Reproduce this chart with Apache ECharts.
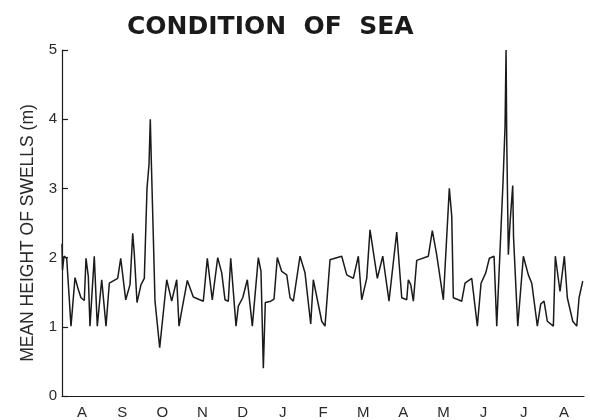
<!DOCTYPE html>
<html>
<head>
<meta charset="utf-8">
<script src="https://cdn.jsdelivr.net/npm/echarts@6/dist/echarts.min.js"></script>
<style>
html,body{margin:0;padding:0;background:#fff;}
#chart{width:590px;height:420px;}
</style>
</head>
<body>
<div id="chart"></div>
<script>
// Month labels (Aug .. Aug)
var monthLabels = ['A','S','O','N','D','J','F','M','A','M','J','J','A'];
// Yaxis ticks
var yTicks = [0,1,2,3,4,5];
// Position of each observation in months from the start of August
var monthPos = [
  0.00,0.012,0.05,0.117,0.224,0.324,0.406,0.473,0.555,0.598,0.655,0.697,0.804,0.879,0.989,
  1.096,1.178,1.387,1.462,1.587,1.694,1.761,1.801,1.868,1.968,
  2.050,2.117,2.167,2.199,2.224,2.279,2.316,2.433,2.608,2.732,2.857,2.914,2.981,
  3.121,3.270,3.519,3.619,3.743,3.878,3.978,
  4.060,4.142,4.202,4.334,4.391,4.501,4.615,4.740,4.889,4.956,
  5.014,5.063,5.198,5.280,5.362,5.472,5.597,5.679,5.761,5.928,
  6.052,6.194,6.259,6.468,6.550,6.675,6.966,
  7.091,7.255,7.380,7.464,7.589,7.671,7.853,7.988,
  8.144,8.336,8.461,8.585,8.625,8.685,8.750,8.834,
  9.123,9.223,9.332,9.497,9.539,9.646,9.706,9.746,9.870,9.955,
  10.037,10.204,10.344,10.436,10.553,10.643,10.760,10.827,10.984,
  11.034,11.059,11.076,11.116,11.158,11.225,11.245,11.350,11.490,11.614,11.699,11.838,11.923,
  12.005,12.087,12.237,12.286,12.403,12.511,12.585,12.720,12.819,12.877,12.969
];
// Mean height of swells (m)
var heights = [
  2.2,1.82,2.02,1.99,1.01,1.71,1.54,1.42,1.38,1.99,1.73,1.01,2.02,1.01,1.68,
  1.01,1.63,1.70,1.99,1.39,1.61,2.35,2.05,1.35,1.61,
  1.70,3.0,3.35,4.0,3.4,2.2,1.37,0.70,1.68,1.37,1.68,1.01,1.23,
  1.67,1.43,1.37,1.99,1.39,2.00,1.78,
  1.39,1.37,1.99,1.01,1.30,1.42,1.68,1.01,2.0,1.8,
  0.4,1.35,1.37,1.40,2.0,1.8,1.75,1.42,1.37,2.02,
  1.78,1.04,1.68,1.08,1.01,1.97,2.02,
  1.75,1.70,2.02,1.39,1.70,2.40,1.70,2.02,
  1.37,2.37,1.42,1.39,1.68,1.61,1.37,1.96,
  2.02,2.39,2.04,1.39,1.39,3.0,2.6,1.42,1.39,1.37,
  1.63,1.70,1.01,1.63,1.78,1.99,2.02,1.01,3.1,
  3.9,5.0,3.7,2.04,2.5,3.04,2.3,1.01,2.02,1.75,1.63,1.01,1.33,
  1.37,1.08,1.01,2.02,1.51,2.02,1.42,1.08,1.01,1.42,1.66
];

var seriesData = monthPos.map(function (m, i) { return [m, heights[i]]; });
var ink = '#1a1a1a';

var chart = echarts.init(document.getElementById('chart'), null, {renderer: 'canvas'});
chart.setOption({
  animation: false,
  backgroundColor: '#ffffff',
  title: {
    text: 'CONDITION  OF  SEA',
    left: 122,
    top: 10,
    textStyle: {fontFamily: 'DejaVu Sans', fontWeight: 'bold', fontSize: 25, color: ink}
  },
  graphic: [{
    type: 'text',
    x: 28,
    y: 233,
    rotation: Math.PI / 2,
    style: {
      text: 'MEAN HEIGHT OF SWELLS (m)',
      fontFamily: 'Liberation Sans',
      fontSize: 17.5,
      fill: '#2a2a2a',
      textAlign: 'center',
      textVerticalAlign: 'middle'
    }
  }],
  grid: {left: 62, right: 6, top: 50, bottom: 21, containLabel: false},
  xAxis: [{
    type: 'category',
    data: monthLabels,
    boundaryGap: true,
    axisLine: {lineStyle: {color: ink, width: 1.2}},
    axisTick: {inside: true, length: 6, alignWithLabel: false, lineStyle: {color: ink, width: 1.2}},
    axisLabel: {color: '#2a2a2a', fontFamily: 'Liberation Sans', fontSize: 15, margin: 9, interval: 0},
    splitLine: {show: false}
  }, {
    type: 'value',
    min: 0,
    max: 13,
    show: false
  }],
  yAxis: {
    type: 'value',
    min: 0,
    max: 5,
    interval: 1,
    axisLine: {show: true, lineStyle: {color: ink, width: 1.2}},
    axisTick: {show: true, inside: true, length: 6, lineStyle: {color: ink, width: 1.2}},
    axisLabel: {color: '#2a2a2a', fontFamily: 'Liberation Sans', fontSize: 15, margin: 5},
    splitLine: {show: false}
  },
  series: [{
    type: 'line',
    xAxisIndex: 1,
    data: seriesData,
    showSymbol: false,
    lineStyle: {color: ink, width: 1.5},
    z: 3
  }]
});
</script>
</body>
</html>
